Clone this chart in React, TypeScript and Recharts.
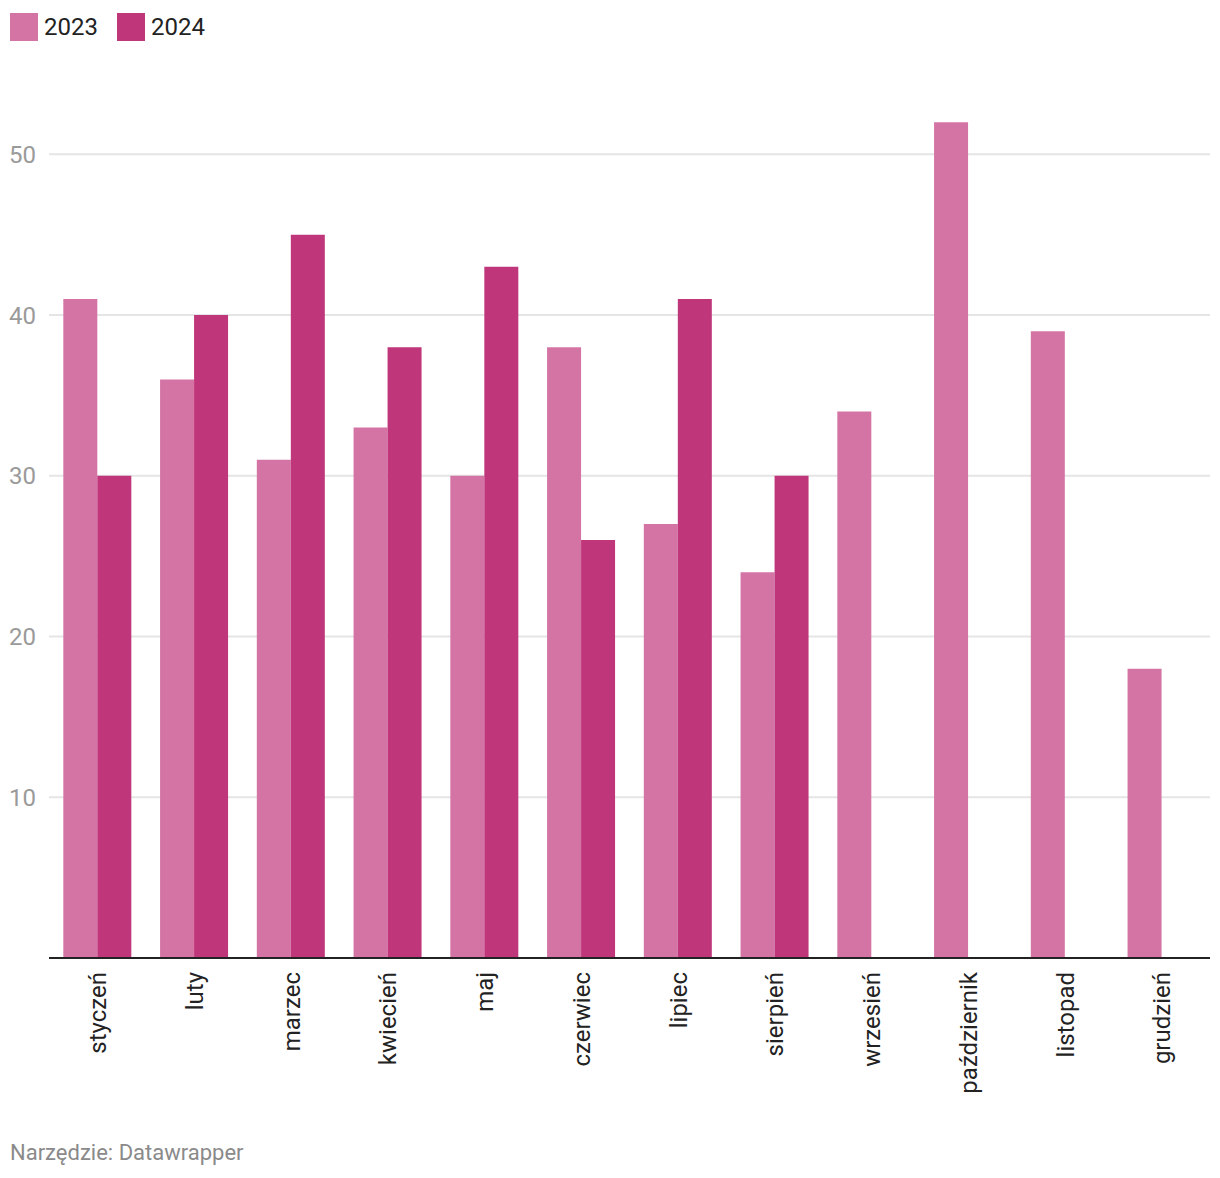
import { BarChart, Bar, XAxis, YAxis, CartesianGrid } from "recharts";

const months = [
  "styczeń",
  "luty",
  "marzec",
  "kwiecień",
  "maj",
  "czerwiec",
  "lipiec",
  "sierpień",
  "wrzesień",
  "październik",
  "listopad",
  "grudzień",
];
const values2023 = [41, 36, 31, 33, 30, 38, 27, 24, 34, 52, 39, 18];
const values2024: (number | null)[] = [30, 40, 45, 38, 43, 26, 41, 30, null, null, null, null];
const yTicks = [10, 20, 30, 40, 50];

const color2023 = "#d474a5";
const color2024 = "#bf367b";

const data = months.map((m, i) => ({
  month: m,
  y2023: values2023[i],
  y2024: values2024[i],
}));

const MonthTick = (props: any) => {
  const { x, y, payload } = props;
  return (
    <text
      x={x}
      y={y}
      transform={`rotate(-90, ${x}, ${y})`}
      textAnchor="end"
      dy="0.36em"
      fill="#222"
      fontSize={24}
      fontFamily="Roboto"
    >
      {payload.value}
    </text>
  );
};

const LegendItem = ({ color, label }: { color: string; label: string }) => (
  <div style={{ display: "flex", alignItems: "center", marginRight: 19 }}>
    <div style={{ width: 28, height: 28, background: color, marginRight: 6 }} />
    <span style={{ fontSize: 24, color: "#222", lineHeight: "28px" }}>{label}</span>
  </div>
);

export default function App() {
  return (
    <div
      style={{
        position: "absolute",
        left: 0,
        top: 0,
        width: 1220,
        height: 1178,
        background: "#fff",
        fontFamily: "Roboto, sans-serif",
      }}
    >
      <div style={{ position: "absolute", left: 10, top: 13, display: "flex" }}>
        <LegendItem color={color2023} label="2023" />
        <LegendItem color={color2024} label="2024" />
      </div>

      <div style={{ position: "absolute", left: 0, top: 0 }}>
        <BarChart
          width={1220}
          height={1178}
          data={data}
          margin={{ top: 74, right: 10, left: 0, bottom: 70 }}
          barCategoryGap="14.8%"
          barGap={0}
        >
          <CartesianGrid
            vertical={false}
            horizontalValues={yTicks}
            stroke="#e5e5e5"
            strokeWidth={2}
          />
          <XAxis
            dataKey="month"
            interval={0}
            height={150}
            tickLine={false}
            tickSize={0}
            tickMargin={14}
            axisLine={{ stroke: "#222", strokeWidth: 2 }}
            tick={<MonthTick />}
          />
          <YAxis
            width={49}
            domain={[0, 55]}
            ticks={yTicks}
            axisLine={false}
            tickLine={false}
            tickSize={0}
            tickMargin={13}
            tick={{ fill: "#9a9a9a", fontSize: 24, fontFamily: "Roboto" }}
          />
          <Bar dataKey="y2023" fill={color2023} isAnimationActive={false} />
          <Bar dataKey="y2024" fill={color2024} isAnimationActive={false} />
        </BarChart>
      </div>

      <div
        style={{
          position: "absolute",
          left: 10,
          top: 1140,
          fontSize: 22,
          color: "#8a8a8a",
          lineHeight: "26px",
        }}
      >
        Narzędzie: Datawrapper
      </div>
    </div>
  );
}
